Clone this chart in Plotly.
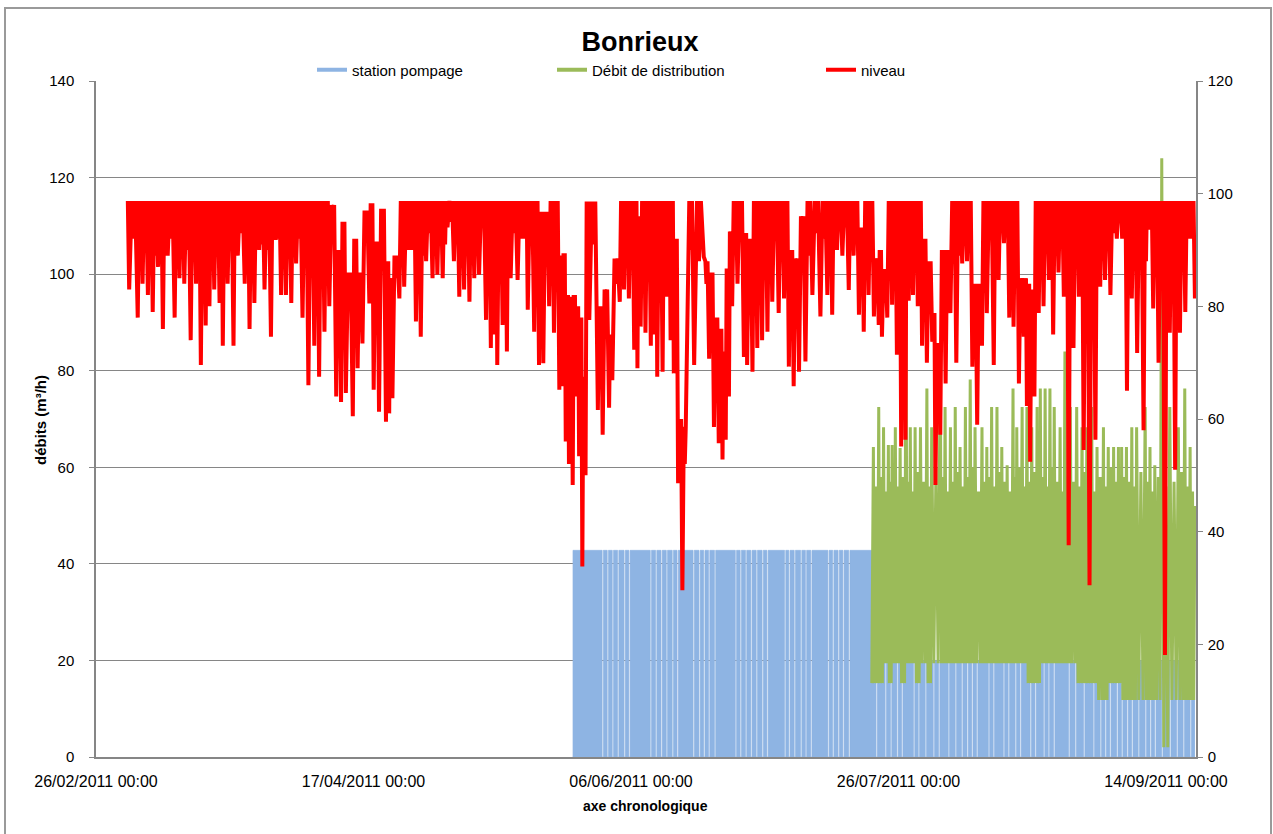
import pandas as pd
import plotly.graph_objects as go

# ---------------- data ----------------
ORIGINE = pd.Timestamp("2011-02-26 00:00")        # axis origin
NIVEAU_DEBUT = pd.Timestamp("2011-03-04 04:48")   # first record of "niveau"

# niveau (right axis): successive lows (days since NIVEAU_DEBUT) and the peak that follows each low
niveau_t = [0, 1.6, 2.5, 3.5, 4.4, 5.4, 6.3, 7.2, 8.5, 9.4,
            10.3, 11.5, 12.5, 13.4, 14.3, 15, 15.9, 16.9, 17.5, 18.4,
            19.5, 20.3, 21.6, 22.5, 23.4, 24.3, 25.3, 26.5, 27.4, 28.4,
            29.3, 30.3, 31.2, 32.4, 33.5, 34.6, 35.5, 36.5, 37.4, 38.7,
            39.6, 40.5, 41.8, 42.7, 43.6, 44.9, 45.7, 46.7, 48, 48.6,
            49.2, 50.5, 51.4, 52.7, 53.6, 54.5, 55.5, 56.7, 57.6, 58.6,
            59.5, 60.7, 61.7, 62.6, 63.6, 64.5, 65.4, 66.7, 67.6, 68.2,
            68.8, 69.8, 70.6, 71.3, 72.6, 73.8, 74.5, 75.7, 76.6, 77.4,
            78.5, 79.4, 80.4, 81, 81.6, 82.2, 82.9, 83.5, 84.1, 84.7,
            85.3, 86, 87.6, 88.5, 89.7, 90.3, 91.7, 92.5, 93.4, 94.4,
            95, 95.6, 96.5, 97.5, 98.1, 98.7, 99.7, 100.5, 101.2, 101.8,
            102.6, 103.4, 104.3, 105.6, 107.4, 108.4, 109.3, 110.2, 110.9, 111.5,
            112.1, 112.7, 113.7, 114.9, 115.5, 116.5, 117.4, 118.3, 119.3, 120.2,
            121.4, 122.4, 123.3, 124.2, 125.2, 126.4, 127.7, 129.2, 130.5, 131.4,
            132.3, 133.3, 134.5, 135.4, 136.4, 137.3, 138.2, 139.2, 140.1, 140.7,
            141.7, 142.6, 143.5, 144.3, 145.1, 145.7, 146.5, 147.4, 148.2, 149.1,
            150.1, 150.7, 151.6, 152.6, 153.5, 154.6, 155.7, 156.6, 157.6, 158.5,
            159.4, 160.3, 161.6, 162.5, 163.5, 164.5, 165.3, 166.3, 167.2, 167.8,
            168.4, 169.2, 170, 170.9, 171.9, 172.7, 173.7, 174.7, 175.6, 176.5,
            177.5, 178.4, 179.5, 180.6, 181.5, 182.4, 183.4, 184.6, 185.6, 186.5,
            187.4, 188.4, 189.6, 190.5, 191.4, 192.4, 193.6, 194.5, 195.5, 196.4,
            197.4, 198.3, 199.2]
niveau_bas = [83, 78, 84, 82, 79, 87, 76, 89, 78, 85,
              84, 74, 84, 69.6, 76.6, 80, 83, 80.6, 73, 84,
              73, 89, 84, 76, 80.6, 90, 83, 74.6, 91.8, 82,
              82, 80.6, 87.6, 78, 66, 73, 67.5, 75.5, 80, 64,
              63, 64.6, 60.5, 69, 73.4, 80.5, 65.2, 61.3, 59.5, 61,
              63.7, 81.4, 83.5, 90, 77.3, 74.6, 88, 85, 85.6, 85,
              94, 88, 81.7, 83, 80.8, 85, 85.6, 77.6, 72.6, 75,
              69.6, 76.7, 72, 85, 84.7, 92, 79.4, 75.5, 69.6, 69.9,
              80, 75.3, 65.2, 65.8, 56, 52, 48.3, 64, 53.4, 33.8,
              50, 77.6, 61.6, 57.2, 62, 66.9, 80.8, 83, 81.4, 72.3,
              69, 76.4, 75.3, 73, 75, 67.5, 68.4, 81.7, 74, 68.1,
              48.6, 29.6, 73.4, 69.6, 88.8, 70.7, 58.6, 55.7, 52.8, 56.3,
              64, 80, 84, 71, 69.6, 68.4, 72.6, 74, 75.5, 80.8,
              78.8, 81.4, 69.3, 65.8, 68.4, 70.2, 82, 78.2, 82, 78.5,
              90, 89, 82.9, 89, 78.5, 75.5, 82, 78.2, 76.7, 74.6,
              78, 80.3, 71.4, 55.1, 56.3, 81, 82, 80, 73, 70,
              73.7, 48.3, 57.2, 66.3, 78.8, 70, 87.6, 88, 69.3, 59,
              73, 78.8, 69.6, 84.7, 91.2, 78, 76.4, 66.3, 74.6, 62.3,
              52.4, 64, 78.8, 80, 84.7, 75, 86, 81.7, 37.6, 72.6,
              81.7, 54.5, 30.5, 56.3, 83.5, 84.7, 82, 92, 92, 65,
              81.4, 71.7, 58, 93.6, 79.6, 70, 18.1, 75.3, 51, 75.3,
              79, 92, 81.4]
niveau_haut = [98.7, 98.7, 98.7, 98.7, 98.7, 98.7, 98.7, 98.7, 98.7, 98.7,
               98.7, 98.7, 98.7, 98.7, 98.7, 98.7, 98.7, 98.7, 98.7, 98.7,
               98.7, 98.7, 98.7, 98.7, 98.7, 98.7, 98.7, 98.7, 98.7, 98.7,
               98.7, 98.7, 98.7, 98.7, 98.7, 98.7, 98.7, 98.7, 98, 90,
               95, 86, 92, 86, 97, 98.3, 91.5, 97.3, 88, 85,
               89, 98.7, 98.7, 98.7, 98.7, 98.7, 98.7, 98.7, 98.7, 98.7,
               98.7, 98.7, 98.7, 98.7, 98.7, 98.7, 98.7, 98.7, 98.7, 98.7,
               98.7, 98.7, 98.7, 98.7, 98.7, 98.7, 98.7, 98.7, 96.8, 96.8,
               98.7, 98.7, 89, 89.4, 82, 81.7, 82, 80, 78, 67.5,
               98.6, 98.6, 80, 83, 75, 88.5, 98.7, 98.7, 98.7, 98.7,
               96, 98.7, 98.7, 98.7, 98.7, 98.7, 98.7, 98.7, 98.7, 92,
               60, 58.6, 98.7, 98.7, 88, 86, 78, 76, 72, 86.7,
               93.3, 98.7, 98.7, 93, 92, 98.7, 98.7, 98.7, 98.7, 98.7,
               98.7, 98.7, 90, 88.5, 96, 98.7, 98.7, 98.7, 98.7, 98.7,
               98.7, 98.7, 98.7, 98.7, 94, 98.7, 98.7, 88.5, 90, 86.6,
               98.7, 98.7, 98.7, 98.7, 98.7, 98.7, 98.7, 98.7, 92, 88,
               78.8, 73.5, 90, 90, 98.7, 98.7, 98.7, 98.7, 84, 84,
               98.7, 98.7, 98.7, 98.7, 98.7, 98.7, 98.7, 85, 85, 84,
               83, 98.7, 98.7, 98.7, 98.7, 98.7, 98.7, 98.7, 98.7, 98.7,
               98.7, 98.7, 98.7, 98.7, 98.7, 98.7, 98.7, 98.7, 98.7, 98.7,
               98.7, 98.7, 98.7, 98.7, 98.7, 98.7, 98.7, 98.7, 98.7, 98.7,
               98.7, 98.7, 98.7]
# shallow dips that fill the upper band between two main lows (right-axis units)
niveau_creux = [92, 90, 93, 91, 89, 94, 90, 92, 91, 93,
                90, 92, 89, 93, 91, 92, 90, 94, 91, 92,
                89, 93, 90, 92, 94, 91, 90, 93, 92, 89,
                91, 94, 92, 90, 88, 91, 89, 92, 93, 86,
                90, 82, 88, 82, 92, 93, 88, 92, 84, 80,
                85, 92, 90, 94, 91, 89, 93, 92, 94, 91,
                95, 92, 90, 93, 91, 92, 94, 90, 88, 91,
                87, 90, 89, 93, 92, 94, 91, 90, 88, 89,
                92, 90, 84, 83, 76, 74, 72, 75, 70, 60,
                92, 91, 76, 78, 70, 84, 92, 93, 91, 89,
                90, 92, 91, 90, 92, 88, 89, 93, 90, 87,
                55, 52, 90, 88, 84, 80, 72, 70, 66, 80,
                88, 92, 93, 88, 87, 89, 90, 91, 92, 93,
                92, 93, 86, 84, 90, 89, 93, 92, 93, 92,
                95, 94, 92, 94, 90, 89, 92, 84, 86, 82,
                91, 92, 88, 80, 82, 92, 93, 92, 88, 84,
                74, 68, 86, 86, 92, 89, 94, 94, 80, 80,
                90, 92, 89, 94, 95, 92, 91, 80, 80, 78,
                78, 90, 92, 93, 94, 91, 94, 93, 85, 90,
                93, 88, 84, 88, 93, 94, 93, 95, 95, 88,
                93, 90, 88, 95, 92, 90, 80, 91, 86, 91,
                92, 95]

# station pompage (left axis): start/end (days since ORIGINE), stops to 0, plateau levels
pompage_debut = 89.1
pompage_fin = 205.4
pompage_arrets = [94.6, 95.55, 96.5, 97.5, 98.7, 99.6, 103.6, 104.6, 105.6, 106.6,
                  107.7, 108.6, 111.6, 112.7, 113.6, 114.5, 115.6, 119.5, 120.4, 121.4,
                  122.4, 123.4, 124.5, 125.4, 128.7, 129.5, 130.5, 131.7, 132.6, 133.6,
                  136.8, 137.7, 138.7, 139.6, 140.7, 145.8, 147.5, 148.5, 149.7, 150.6,
                  152.8, 153.7, 155.0, 156.5, 157.5, 159.3, 160.6, 161.8, 162.8, 163.7,
                  164.6, 166.8, 167.7, 169.6, 170.5, 171.8, 172.7, 174.6, 175.5, 177.1,
                  178.0, 179.0, 181.8, 183.0, 184.6, 186.4, 187.7, 188.6, 189.5, 190.8,
                  191.7, 192.7, 193.6, 194.8, 196.1, 197.0, 197.9, 199.2, 200.7, 202.0,
                  203.2, 204.5]
pompage_paliers_t = [89.1, 145.5, 150.3, 151.3]
pompage_paliers_val = [42.8, 20, 42.5, 20]

# Débit de distribution (left axis): peaks (days since ORIGINE), peak values, following lows
debit_depart_t = 145.0
debit_depart_val = 15.3
debit_t = [145.3, 146.3, 147.2, 148.1, 148.8, 149.4, 150.3, 151.4, 152.2, 153.1,
           154.1, 155.3, 156.2, 157.8, 158.7, 159.7, 160.6, 161.5, 162.5, 163.4,
           164.3, 165.6, 166.5, 167.4, 168.4, 169.3, 170.3, 171.4, 172.1, 173.1,
           174.0, 174.9, 175.9, 176.5, 177.4, 178.3, 179.1, 180.2, 181.1, 182.1,
           183.3, 184.3, 185.2, 186.1, 187.1, 188.3, 189.2, 190.2, 191.1, 191.7,
           192.6, 193.6, 194.5, 196.1, 197.0, 197.9, 199.2, 200.7, 202.3, 203.5,
           204.5, 205.4]
debit_haut = [64.2, 72.5, 68.3, 64.6, 64.6, 68.3, 64, 95, 68.3, 68.3,
              68.3, 76.3, 68.3, 84, 72.5, 68.3, 72.5, 64.2, 72.5, 78.2,
              68.3, 68.3, 64.2, 72.5, 72.5, 64.2, 60.4, 76.3, 68.3, 72.5,
              72.5, 68.3, 72.5, 76.3, 76.3, 76.3, 72.5, 68.3, 84, 72.5,
              72.5, 68.3, 68.3, 72.5, 64.2, 68.3, 64.2, 64.2, 64.2, 64.2,
              64.2, 68.3, 68.3, 72.5, 64.2, 60.4, 124, 72.5, 68.3, 76.3,
              64.2, 52]
debit_bas = [15.3, 15.3, 19.4, 15.3, 19.4, 19.4, 15.3, 19.4, 19.4, 15.3,
             19.4, 15.3, 19.4, 19.4, 19.4, 19.4, 19.4, 19.4, 19.4, 19.4,
             19.4, 19.4, 19.4, 19.4, 19.4, 19.4, 19.4, 19.4, 19.4, 19.4,
             15.3, 15.3, 15.3, 19.4, 19.4, 19.4, 19.4, 19.4, 19.4, 19.4,
             15.3, 15.3, 15.3, 15.3, 11.8, 11.8, 15.3, 15.3, 15.3, 11.8,
             11.8, 11.8, 11.8, 11.8, 11.8, 11.8, 2, 11.8, 11.8, 11.8,
             11.8]
# secondary peaks (top of the solid green band) between two main peaks
debit_inter = [56, 58, 55, 57, 60, 56, 58, 57, 55, 59,
               57, 56, 60, 58, 55, 57, 59, 56, 58, 60,
               55, 57, 58, 56, 59, 57, 55, 58, 60, 56,
               57, 59, 55, 58, 56, 60, 57, 55, 58, 57,
               56, 59, 57, 55, 58, 56, 60, 57, 55, 58,
               57, 56, 59, 57, 55, 58, 56, 57, 59, 56,
               55]

noms = ["station pompage", "Débit de distribution", "niveau"]
couleurs = ["rgb(142,180,227)", "rgb(155,187,89)", "rgb(255,0,0)"]

axe_gauche = [0, 140, 20]
axe_droit = [0, 120, 20]
x_ticks = ["2011-02-26", "2011-04-17", "2011-06-06", "2011-07-26", "2011-09-14"]
x_ticktext = ["26/02/2011 00:00", "17/04/2011 00:00", "06/06/2011 00:00",
              "26/07/2011 00:00", "14/09/2011 00:00"]
x_fin = "2011-09-19 14:24"


def jour(base, d):
    return base + pd.Timedelta(days=d)


# ---- build niveau series ----
nx, ny = [jour(NIVEAU_DEBUT, -0.25)], [niveau_haut[0]]
for k, t in enumerate(niveau_t):
    nx.append(jour(NIVEAU_DEBUT, t)); ny.append(niveau_bas[k])
    if k < len(niveau_t) - 1:
        t2 = niveau_t[k + 1]
        h = niveau_haut[k]
        c = min(niveau_creux[k], h)
        nx += [jour(NIVEAU_DEBUT, t + (t2 - t) * f) for f in (0.3, 0.5, 0.7)]
        ny += [h, c, h]


# ---- build pompage series (step shape) ----
def palier(t):
    v = pompage_paliers_val[0]
    for pt, pv in zip(pompage_paliers_t, pompage_paliers_val):
        if t >= pt:
            v = pv
    return v

events = [(pompage_debut, 0.0)]
events.append((pompage_debut + 0.05, palier(pompage_debut)))
for t in pompage_paliers_t[1:]:
    events.append((t, palier(t)))
for s in pompage_arrets:
    events.append((s, 0.0))
    events.append((s + 0.22, palier(s + 0.22)))
events.append((pompage_fin, palier(pompage_fin)))
events.sort(key=lambda e: e[0])
px_ = [jour(ORIGINE, e[0]) for e in events]
py_ = [e[1] for e in events]

# ---- build debit series ----
dx, dy = [jour(ORIGINE, debit_depart_t)], [debit_depart_val]
for k, t in enumerate(debit_t):
    dx.append(jour(ORIGINE, t)); dy.append(debit_haut[k])
    if k < len(debit_t) - 1:
        t2 = debit_t[k + 1]
        b = debit_bas[k]
        dx += [jour(ORIGINE, t + (t2 - t) * f) for f in (0.25, 0.5, 0.75)]
        dy += [b, debit_inter[k], b]

FONT = "Liberation Sans, Arial, sans-serif"

fig = go.Figure()
fig.add_trace(go.Scatter(x=px_, y=py_, mode="lines", line=dict(color=couleurs[0], width=0.6, shape="hv"),
                         fill="tozeroy", fillcolor=couleurs[0], showlegend=False, hoverinfo="skip"))
fig.add_trace(go.Scatter(x=dx, y=dy, mode="lines", line=dict(color=couleurs[1], width=3),
                         showlegend=False, hoverinfo="skip"))
fig.add_trace(go.Scatter(x=nx, y=ny, mode="lines", line=dict(color=couleurs[2], width=4),
                         yaxis="y2", showlegend=False, hoverinfo="skip"))

# legend entries
for i, (nm, c) in enumerate(zip(noms, couleurs)):
    fig.add_trace(go.Scatter(x=[None], y=[None], mode="lines", name=nm,
                             line=dict(color=c, width=4),
                             legend="legend" if i == 0 else f"legend{i + 1}"))

L, R, T, B = 96, 77, 81, 77
W, H = 1273, 834
pw, ph = W - L - R, H - T - B


def pxx(x):
    return (x - L) / pw


def pyy(y):
    return (H - B - y) / ph


leg_common = dict(orientation="h", yanchor="middle", xanchor="left", bgcolor="rgba(0,0,0,0)",
                  font=dict(family=FONT, size=15, color="#000"), itemwidth=30)

fig.update_layout(
    width=W, height=H,
    margin=dict(l=L, r=R, t=T, b=B),
    paper_bgcolor="white", plot_bgcolor="white",
    font=dict(family=FONT, size=15, color="#000"),
    title=dict(text="<b>Bonrieux</b>", x=640 / W, xanchor="center", y=1 - 42 / H, yanchor="middle",
               font=dict(family=FONT, size=27, color="#000")),
    legend=dict(x=pxx(312), y=pyy(70), **leg_common),
    legend2=dict(x=pxx(552), y=pyy(70), **leg_common),
    legend3=dict(x=pxx(821), y=pyy(70), **leg_common),
    xaxis=dict(type="date", range=[ORIGINE, x_fin], tickvals=x_ticks, ticktext=x_ticktext,
               showgrid=False, showline=True, linecolor="#868686", linewidth=1.5,
               ticks="", ticklabelstandoff=9,
               tickfont=dict(family=FONT, size=16), zeroline=False),
    yaxis=dict(range=axe_gauche[:2], dtick=axe_gauche[2], showgrid=True, gridcolor="#868686",
               gridwidth=1, showline=True, linecolor="#868686", linewidth=1.5,
               ticks="outside", ticklen=5, tickcolor="#868686", ticklabelstandoff=12,
               tickfont=dict(family=FONT, size=15), zeroline=False),
    yaxis2=dict(range=axe_droit[:2], dtick=axe_droit[2], overlaying="y", side="right",
                showgrid=False, showline=True, linecolor="#868686", linewidth=1.5,
                ticks="outside", ticklen=5, tickcolor="#868686", ticklabelstandoff=2,
                tickfont=dict(family=FONT, size=15), zeroline=False),
    annotations=[
        dict(text="<b>axe chronologique</b>", xref="paper", yref="paper", x=pxx(645), y=pyy(806),
             showarrow=False, xanchor="center", yanchor="middle", font=dict(family=FONT, size=14)),
        dict(text="<b>débits (m³/h)</b>", xref="paper", yref="paper", x=pxx(40), y=pyy(420),
             showarrow=False, xanchor="center", yanchor="middle", textangle=-90,
             font=dict(family=FONT, size=15)),
    ],
    shapes=[dict(type="rect", xref="paper", yref="paper", x0=pxx(5), x1=pxx(1271),
                 y0=pyy(845), y1=pyy(8), line=dict(color="#9a9a9a", width=2), layer="below")],
)

fig.write_html("out.html", config={"displayModeBar": False},
               post_script="document.body.style.margin='0px';")
